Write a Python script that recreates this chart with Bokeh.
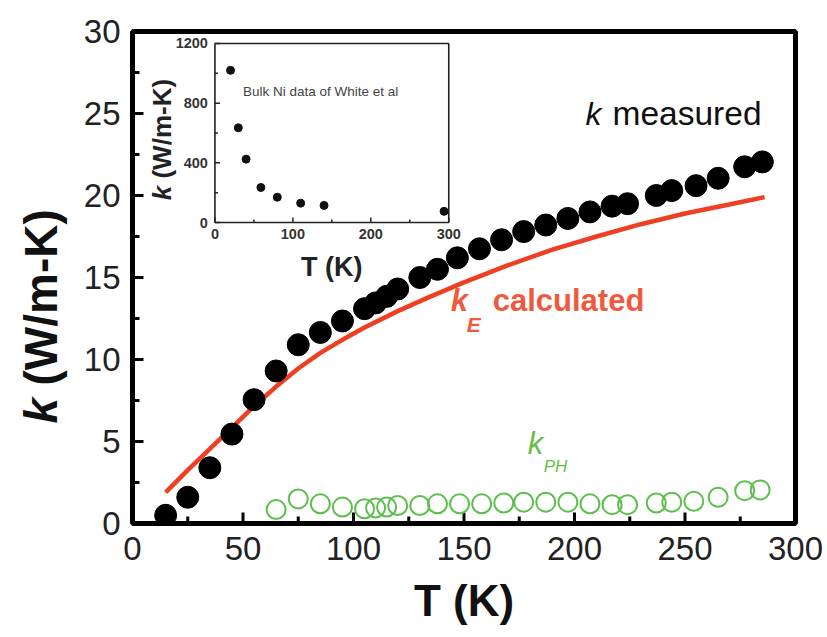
import math
from bokeh.plotting import figure
from bokeh.layouts import row
from bokeh.models import Range1d, Label, FixedTicker
from bokeh.embed import file_html
from bokeh.resources import INLINE
from bokeh.core.properties import value

# ---------------- data ----------------
T_meas = [15, 25, 35, 45, 55, 65, 75, 85, 95, 105, 110, 115, 120, 130, 138, 147, 157,
          167, 177, 187, 197, 207, 217, 224, 237, 244, 255, 265, 277, 285]
k_meas = [0.5, 1.6, 3.4, 5.45, 7.55, 9.3, 10.9, 11.65, 12.35, 13.1, 13.45, 13.85, 14.3,
          15.0, 15.5, 16.2, 16.75, 17.3, 17.8, 18.2, 18.6, 19.0, 19.35, 19.5, 20.0, 20.3,
          20.6, 21.05, 21.75, 22.05]

T_calc = [15, 25, 35, 45, 55, 65, 75, 85, 95, 105, 120, 135, 150, 170, 190, 210, 230,
          250, 270, 286]
k_calc = [1.9, 3.25, 4.55, 5.85, 7.15, 8.35, 9.45, 10.4, 11.2, 11.95, 12.95, 13.85, 14.7,
          15.75, 16.7, 17.5, 18.25, 18.9, 19.45, 19.9]

T_ph = [65, 75, 85, 95, 105, 110, 115, 120, 130, 138, 148, 158, 168, 177, 187, 197,
        207, 217, 224, 237, 244, 254, 265, 277, 284]
k_ph = [0.85, 1.5, 1.2, 1.0, 0.9, 0.95, 1.0, 1.1, 1.1, 1.2, 1.2, 1.2, 1.25, 1.3, 1.3,
        1.3, 1.2, 1.15, 1.15, 1.25, 1.3, 1.35, 1.6, 2.0, 2.05]

inset_T = [20, 30, 40, 59, 80, 110, 140, 294]
inset_k = [1020, 635, 425, 235, 170, 130, 115, 75]

x_ticks = [0, 50, 100, 150, 200, 250, 300]
y_ticks = [0, 5, 10, 15, 20, 25, 30]
inset_x_ticks = [0, 100, 200, 300]
inset_y_ticks = [0, 400, 800, 1200]

FONT = "Liberation Sans"
RED_LINE = "#ee3f22"
RED_TEXT = "#ef5a3e"
GREEN = "#5cbf4c"
GREEN_TEXT = "#66bf45"
INK = "#111111"


def mids(t):
    return [(a + b) / 2 for a, b in zip(t[:-1], t[1:])]


xr = Range1d(0, 300)
yr = Range1d(0, 30)

# layout sizes (pixels)
W, H = 747, 637
BL, BR, BT, BB = 51, 32, 31, 114
FRAME_W = W - BL - BR
FRAME_H = H - BT - BB
DX = (xr.end - xr.start) / FRAME_W   # data units per pixel
DY = (yr.end - yr.start) / FRAME_H

# ---------------- left strip holding the y-axis title ----------------
lab = figure(width=80, height=H, x_range=Range1d(0, 1), y_range=yr,
             output_backend="svg", toolbar_location=None,
             x_axis_location=None, y_axis_location=None,
             min_border_left=0, min_border_right=0, min_border_top=BT,
             min_border_bottom=BB)
lab.grid.visible = False
lab.outline_line_color = None
lab.background_fill_color = "white"
lab.border_fill_color = "white"
lab.add_layout(Label(x=0.5, y=6.1, text="k", angle=math.pi / 2,
                     text_font=FONT, text_font_style="bold italic",
                     text_font_size="46px", text_color=INK,
                     text_align="left", text_baseline="middle"))
lab.add_layout(Label(x=0.5, y=6.1, y_offset=38, text="(W/m-K)", angle=math.pi / 2,
                     text_font=FONT, text_font_style="bold",
                     text_font_size="46px", text_color=INK,
                     text_align="left", text_baseline="middle"))

# ---------------- main figure ----------------
p = figure(width=W, height=H, x_range=xr, y_range=yr,
           output_backend="svg", toolbar_location=None,
           min_border_left=BL, min_border_right=BR, min_border_top=BT,
           min_border_bottom=BB)
p.grid.visible = False
p.background_fill_color = "white"
p.border_fill_color = "white"
p.outline_line_color = "black"
p.outline_line_width = 5
p.outline_line_alpha = 1.0

p.xaxis.ticker = FixedTicker(ticks=x_ticks, minor_ticks=mids(x_ticks))
p.yaxis.ticker = FixedTicker(ticks=y_ticks, minor_ticks=mids(y_ticks))
for ax in (p.xaxis[0], p.yaxis[0]):
    ax.axis_line_width = 4
    ax.axis_line_color = "black"
    ax.major_tick_in = 0
    ax.major_tick_out = 0
    ax.minor_tick_in = 0
    ax.minor_tick_out = 0
    ax.major_label_text_font = FONT
    ax.major_label_text_font_size = "33px"
    ax.major_label_text_color = "#222222"
p.xaxis.major_label_standoff = 13
p.yaxis.major_label_standoff = 12

p.xaxis.axis_label = "T (K)"
p.xaxis.axis_label_text_font = FONT
p.xaxis.axis_label_text_font_style = "bold"
p.xaxis.axis_label_text_font_size = "44px"
p.xaxis.axis_label_text_color = INK
p.xaxis.axis_label_standoff = 13

# frame edges on the axis sides
p.segment(x0=[xr.start], y0=[yr.start], x1=[xr.start], y1=[yr.end],
          line_color="black", line_width=4)
p.segment(x0=[xr.start], y0=[yr.start], x1=[xr.end], y1=[yr.start],
          line_color="black", line_width=4)

# inward tick marks (major 11 px, minor 7 px)
def xticks_seg(fig, ticks, base, length, width, color):
    fig.segment(x0=ticks, y0=[base] * len(ticks), x1=ticks,
                y1=[base + length] * len(ticks), line_color=color, line_width=width)


def yticks_seg(fig, ticks, base, length, width, color):
    fig.segment(x0=[base] * len(ticks), y0=ticks, x1=[base + length] * len(ticks),
                y1=ticks, line_color=color, line_width=width)


xticks_seg(p, x_ticks, yr.start, 11 * DY, 3, "black")
xticks_seg(p, mids(x_ticks), yr.start, 7 * DY, 3, "black")
yticks_seg(p, y_ticks, xr.start, 11 * DX, 3, "black")
yticks_seg(p, mids(y_ticks), xr.start, 7 * DX, 3, "black")

# data
p.line(T_calc, k_calc, line_color=RED_LINE, line_width=4.5)
p.scatter(T_meas, k_meas, size=22, fill_color="black", line_color="black")
p.scatter(T_ph, k_ph, size=19, fill_color=None, line_color=GREEN, line_width=2)

# in-plot annotations
p.add_layout(Label(x=205, y=23.9, text="k", text_font=FONT, text_font_style="italic",
                   text_font_size="32px", text_color=INK))
p.add_layout(Label(x=205, y=23.9, x_offset=27, text="measured", text_font=FONT,
                   text_font_size="33.5px", text_color=INK))

p.add_layout(Label(x=144, y=12.56, text="k", text_font=FONT,
                   text_font_style="bold italic", text_font_size="31px",
                   text_color=RED_TEXT))
p.add_layout(Label(x=144, y=12.56, x_offset=16, y_offset=-18, text="E", text_font=FONT,
                   text_font_style="bold italic", text_font_size="21px",
                   text_color=RED_TEXT))
p.add_layout(Label(x=144, y=12.56, x_offset=42, text="calculated", text_font=FONT,
                   text_font_style="bold", text_font_size="31px",
                   text_color=RED_TEXT))

p.add_layout(Label(x=178.8, y=3.84, text="k", text_font=FONT, text_font_style="italic",
                   text_font_size="31px", text_color=GREEN_TEXT))
p.add_layout(Label(x=178.8, y=3.84, x_offset=16, y_offset=-15, text="PH", text_font=FONT,
                   text_font_style="italic", text_font_size="17px",
                   text_color=GREEN_TEXT))

# ---------------- inset (sub-coordinates) ----------------
ix = Range1d(0, 300)
iy = Range1d(0, 1200)
tx = Range1d(37.3, 143.1)
ty = Range1d(18.35, 29.27)
ins = p.subplot(x_source=ix, y_source=iy, x_target=tx, y_target=ty)
IDX = (ix.end - ix.start) / ((tx.end - tx.start) / DX)   # inset units per pixel
IDY = (iy.end - iy.start) / ((ty.end - ty.start) / DY)

ins.quad(left=[ix.start], right=[ix.end], bottom=[iy.start], top=[iy.end],
         fill_color="white", line_color="#222222", line_width=1.6)
xticks_seg(ins, inset_x_ticks, iy.start, 5 * IDY, 1.5, "#222222")
xticks_seg(ins, mids(inset_x_ticks), iy.start, 3 * IDY, 1.5, "#222222")
yticks_seg(ins, inset_y_ticks, ix.start, 5 * IDX, 1.5, "#222222")
yticks_seg(ins, mids(inset_y_ticks), ix.start, 3 * IDX, 1.5, "#222222")
ins.text(x=inset_x_ticks, y=[iy.start] * len(inset_x_ticks),
         text=[str(t) for t in inset_x_ticks], text_align="center",
         text_baseline="top", y_offset=6, text_font=value(FONT),
         text_font_style="bold", text_font_size="14.5px", text_color="#333333")
ins.text(x=[ix.start] * len(inset_y_ticks), y=inset_y_ticks,
         text=[str(t) for t in inset_y_ticks], text_align="right",
         text_baseline="middle", x_offset=-7, text_font=value(FONT),
         text_font_style="bold", text_font_size="14.5px", text_color="#333333")
ins.text(x=[150], y=[-300], text=["T (K)"], text_align="center",
         text_baseline="alphabetic", text_font=value(FONT), text_font_style="bold",
         text_font_size="27px", text_color="#222222")
ins.text(x=[-68], y=[150], text=["k"], angle=math.pi / 2, text_align="left",
         text_baseline="middle", text_font=value(FONT),
         text_font_style="bold italic", text_font_size="26px", text_color="#222222")
ins.text(x=[-68], y=[295], text=["(W/m-K)"], angle=math.pi / 2, text_align="left",
         text_baseline="middle", text_font=value(FONT),
         text_font_style="bold", text_font_size="26px", text_color="#222222")
ins.text(x=[36], y=[878], text=["Bulk Ni data of  White et al"], text_align="left",
         text_baseline="alphabetic", text_font=value(FONT),
         text_font_size="13.5px", text_color="#444444")
ins.scatter(inset_T, inset_k, size=8, fill_color="#111111", line_color="#111111")

open("out.html", "w").write(file_html(row(lab, p), INLINE))
